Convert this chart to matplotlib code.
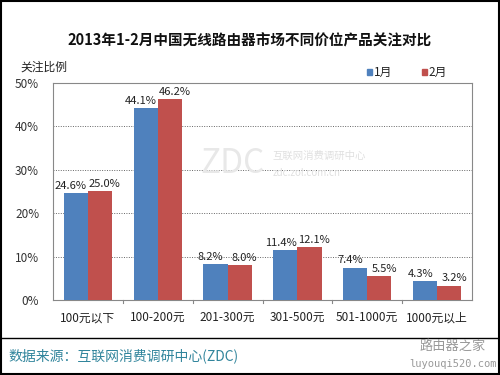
import matplotlib
matplotlib.use('Agg')
import matplotlib.pyplot as plt
from matplotlib.patches import Rectangle
from matplotlib.lines import Line2D
import numpy as np

plt.rcParams['font.family'] = ['Noto Sans CJK SC', 'DejaVu Sans']

categories = ['100元以下', '100-200元', '201-300元', '301-500元', '501-1000元', '1000元以上']
jan = [24.6, 44.1, 8.2, 11.4, 7.4, 4.3]
feb = [25.0, 46.2, 8.0, 12.1, 5.5, 3.2]
series_names = ['1月', '2月']
colors = ['#4F81BD', '#C0504D']
yticks = [0, 10, 20, 30, 40, 50]

fig = plt.figure(figsize=(5, 3.75), dpi=100)
ax = fig.add_axes([0.106, 0.2, 0.838, 0.579])

x = np.arange(len(categories))
w = 0.345
ax.bar(x - w / 2, jan, w, color=colors[0], zorder=3)
ax.bar(x + w / 2, feb, w, color=colors[1], zorder=3)

# value labels pushed slightly outward so the pairs do not collide
for xi, v in zip(x, jan):
    ax.text(xi - w / 2 - 0.07, v + 0.6, f'{v:.1f}%', ha='center', va='bottom', fontsize=8, color='#222222')
for xi, v in zip(x, feb):
    ax.text(xi + w / 2 + 0.07, v + 0.6, f'{v:.1f}%', ha='center', va='bottom', fontsize=8, color='#222222')

ax.set_xlim(-0.5, len(categories) - 0.5)
ax.set_ylim(0, 50)
ax.set_yticks(yticks)
ax.set_yticklabels([f'{t}%' for t in yticks], fontsize=8.5, color='#333333')
ax.set_xticks(x)
ax.set_xticklabels(categories, fontsize=8.5, color='#222222')
ax.tick_params(axis='x', length=0, pad=8)
ax.tick_params(axis='y', length=0, pad=10)
for t in yticks[1:-1]:
    ax.axhline(t, color='#666666', linestyle=(0, (1, 1.5)), linewidth=0.7, zorder=1)
for s in ax.spines.values():
    s.set_color('#888888')
    s.set_linewidth(0.8)
# small separators between categories on the x axis
for b in x[:-1] + 0.5:
    ax.plot([b, b], [0, -0.8], color='#888888', linewidth=0.8, clip_on=False)

fig.text(0.5, 0.893, '2013年1-2月中国无线路由器市场不同价位产品关注对比', ha='center', va='center',
         fontsize=10.5, fontweight='bold', color='#111111')
fig.text(0.04, 0.822, '关注比例', ha='left', va='center', fontsize=8.5, color='#222222')

# legend
fig.patches.append(Rectangle((0.733, 0.800), 0.011, 0.015, color=colors[0], transform=fig.transFigure))
fig.text(0.747, 0.807, series_names[0], ha='left', va='center', fontsize=8.5, color='#222222')
fig.patches.append(Rectangle((0.843, 0.800), 0.011, 0.015, color=colors[1], transform=fig.transFigure))
fig.text(0.857, 0.807, series_names[1], ha='left', va='center', fontsize=8.5, color='#222222')

# watermark
fig.text(0.40, 0.565, 'ZDC', ha='left', va='center', fontsize=24, color='#e8e8e8', zorder=0)
fig.text(0.545, 0.585, '互联网消费调研中心', ha='left', va='center', fontsize=7.5, color='#e0e0e0')
fig.text(0.545, 0.540, 'zdc.zol.com.cn', ha='left', va='center', fontsize=7, color='#e0e0e0')

# footer
fig.add_artist(Line2D([0, 1], [0.099, 0.099], color='black', linewidth=1, transform=fig.transFigure))
fig.text(0.016, 0.05, '数据来源：互联网消费调研中心(ZDC)', ha='left', va='center', fontsize=10, color='#31859C')
fig.text(0.905, 0.077, '路由器之家', ha='center', va='center', fontsize=9.5, color='#999999')
fig.text(0.905, 0.030, 'luyouqi520.com', ha='center', va='center', fontsize=7.5, color='#999999',
         family='DejaVu Sans Mono')

# outer border
fig.patches.append(Rectangle((0.002, 0.003), 0.996, 0.994, fill=False, edgecolor='black',
                             linewidth=1.5, transform=fig.transFigure))

fig.savefig('out.png', dpi=100)
